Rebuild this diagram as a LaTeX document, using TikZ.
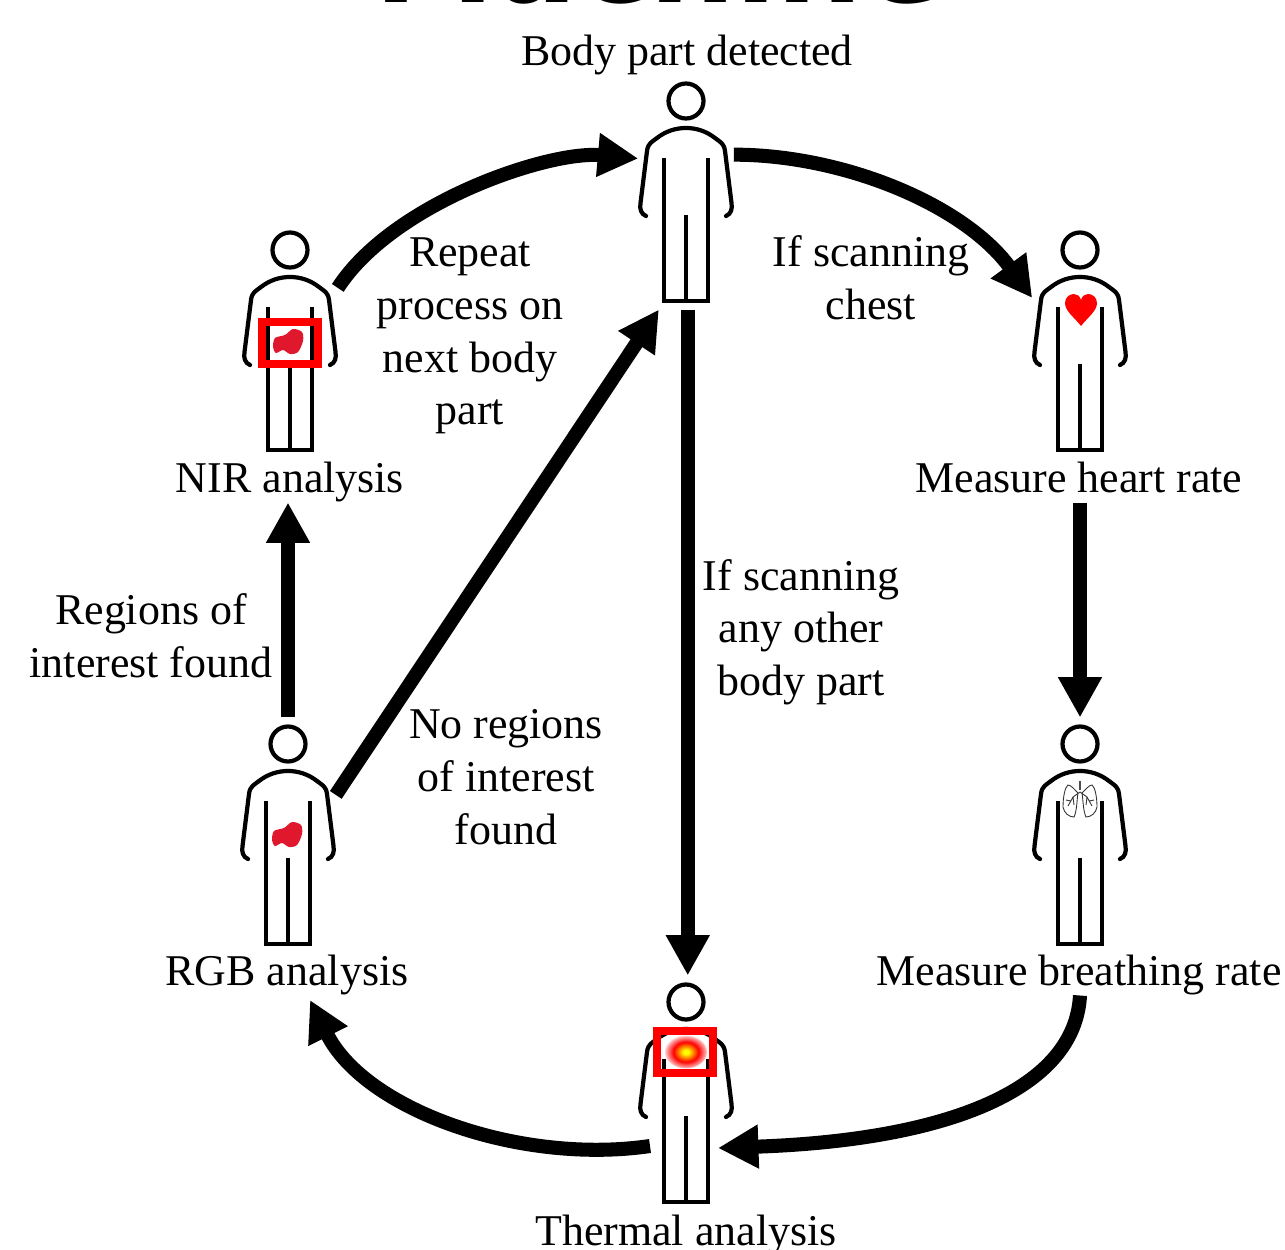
\documentclass[tikz,border=0pt]{standalone}
\usepackage{fontspec}
\setmainfont{Liberation Serif}
\setsansfont{DejaVu Sans}
\usepackage{xcolor}
\usepackage{tikz}
\usetikzlibrary{arrows.meta}

\definecolor{liverred}{HTML}{E0182D}
\pgfdeclareradialshading{thermalglow}{\pgfpoint{0bp}{0bp}}{
  color(0bp)=(yellow); color(3bp)=(yellow); color(9bp)=(orange); color(15bp)=(red);
  color(22bp)=(red!45); color(27bp)=(white); color(50bp)=(white)}

\tikzset{
  bodybox/.style={minimum width=54.4pt, minimum height=133.8pt, inner sep=0pt, outer sep=0pt},
  caption/.style={font=\fontsize{25}{30}\selectfont, align=center, inner sep=3pt},
  oneline/.style={font=\fontsize{25}{30}\selectfont, anchor=base, inner sep=0pt, text height=17pt, text depth=5.5pt},
  flowline/.style={line width=8pt, -{Triangle[length=23pt,width=23.5pt]}},
  redframe/.style={draw=red, line width=4.5pt},
  person/.pic={
    \begin{scope}[shift={(0,-91)}, line width=2.4pt]
      \draw (0,0) circle (17.5);
      \draw[line cap=round] (-40,115) .. controls (-45,113) and (-46.5,108) .. (-45.5,102)
        -- (-39,50) .. controls (-38,42) and (-34,41) .. (-29,37)
        .. controls (-20,30) and (-10,27) .. (0,27)
        .. controls (10,27) and (20,30) .. (29,37)
        .. controls (34,41) and (38,42) .. (39,50)
        -- (45.5,102) .. controls (46.5,108) and (45,113) .. (40,115);
      \draw (-22,57) -- (-22,200) -- (22,200) -- (22,57);
      \draw (0,114) -- (0,200);
    \end{scope}
  },
  blob/.pic={
    \fill[liverred] plot[smooth cycle] coordinates {(-15,5) (-13,-4) (-3,-7) (5,-13)
      (14,-10) (15,-1) (10,10) (2,12) (-5,8) (-12,11)};
  },
  lunglobe/.pic={
    \draw[line width=0.5pt, black!80] (2,-7) .. controls (5,-10) and (9,-15) .. (12,-15)
      .. controls (15,-13) and (17,-3) .. (17,7)
      .. controls (16,13) and (11,17) .. (6,17)
      .. controls (3,11) and (3,-2) .. (2,-7);
    \draw[line width=0.5pt, black!80] (0,-8) -- (7,-3) -- (12,6) (7,-3) -- (6,5) (9,1) -- (14,0);
  }
}

\begin{document}
\begin{tikzpicture}[x=0.02cm, y=-0.02cm]
  \useasboundingbox (0,0) rectangle (1285,1250);

  \node[anchor=base, inner sep=0pt, font=\fontsize{69}{72}\selectfont\sffamily\bfseries] (Title) at (660,3) {Machine};

  \node[bodybox] (Top) at (686,192) {};
  \node[bodybox] (NIR) at (290,341) {};
  \node[bodybox] (Heart) at (1080,341) {};
  \node[bodybox] (RGB) at (288,835) {};
  \node[bodybox] (Lungs) at (1080,835) {};
  \node[bodybox] (Thermal) at (686,1093) {};

  \pic at (Top) {person};
  \pic at (NIR) {person};
  \pic at (Heart) {person};
  \pic at (RGB) {person};
  \pic at (Lungs) {person};
  \pic at (Thermal) {person};

  % what is seen on each body
  \pic at (288,342) {blob};
  \draw[redframe] (262,322) rectangle (318,364);
  \pic at (287,835) {blob};
  \fill[red] (1081,326) .. controls (1074,317) and (1065,311) .. (1065,303)
    .. controls (1065,297) and (1070,294) .. (1074,294)
    .. controls (1077,294) and (1080,296) .. (1081,300)
    .. controls (1082,296) and (1085,294) .. (1088,294)
    .. controls (1092,294) and (1097,297) .. (1097,303)
    .. controls (1097,311) and (1088,317) .. (1081,326);
  \draw[line width=1.2pt, black!70] (1080,781) -- (1080,790);
  \pic at (1080,800) {lunglobe};
  \pic[xscale=-1] at (1080,800) {lunglobe};
  \shade[shading=thermalglow] (686,1052) ellipse (21 and 16.5);
  \draw[redframe] (657,1031) rectangle (713,1073);

  \node[oneline] (TopL) at (687,65.5) {Body part detected};
  \node[oneline] (NIRL) at (290,492.5) {NIR analysis};
  \node[oneline] (HeartL) at (1079,492.5) {Measure heart rate};
  \node[oneline] (RGBL) at (287,985.5) {RGB analysis};
  \node[oneline] (LungsL) at (1079,985.5) {Measure breathing rate};
  \node[oneline] (ThermalL) at (686,1245) {Thermal analysis};

  \node[caption] (Repeat) at (470,336) {Repeat\\process on\\next body\\part};
  \node[caption] (Chest) at (871,278) {If scanning\\chest};
  \node[caption] (Regions) at (151,636) {Regions of\\interest found};
  \node[caption] (NoRegions) at (506,777) {No regions\\of interest\\found};
  \node[caption] (Other) at (801,632) {If scanning\\any other\\body part};

  \coordinate (ThermalIn) at (718,1148);
  \coordinate (ThermalOut) at (650,1146);
  \coordinate (RGBIn) at (310,1000);

  \draw[flowline] (NIR.48) .. controls +(55,-85) and +(-90,-8) .. (Top.145);
  \draw[flowline] (Top.38) .. controls +(110,0) and +(-68,-93) .. (Heart.138);
  \draw[flowline] (HeartL.south -| Lungs.north) -- (Lungs.north);
  \draw[flowline] (RGB.north) -- (RGB.north |- NIRL.south);
  \draw[flowline] (RGB.40) -- (Top.257);
  \draw[flowline] ([xshift=1pt]Top.south) -- ([xshift=1pt]Thermal.north);
  \draw[flowline] (LungsL.south -| Lungs.north) .. controls +(-5,93) and +(232,-8) .. (ThermalIn);
  \draw[flowline] (ThermalOut) .. controls +(-130,19) and +(55,110) .. (RGBIn);
\end{tikzpicture}
\end{document}
